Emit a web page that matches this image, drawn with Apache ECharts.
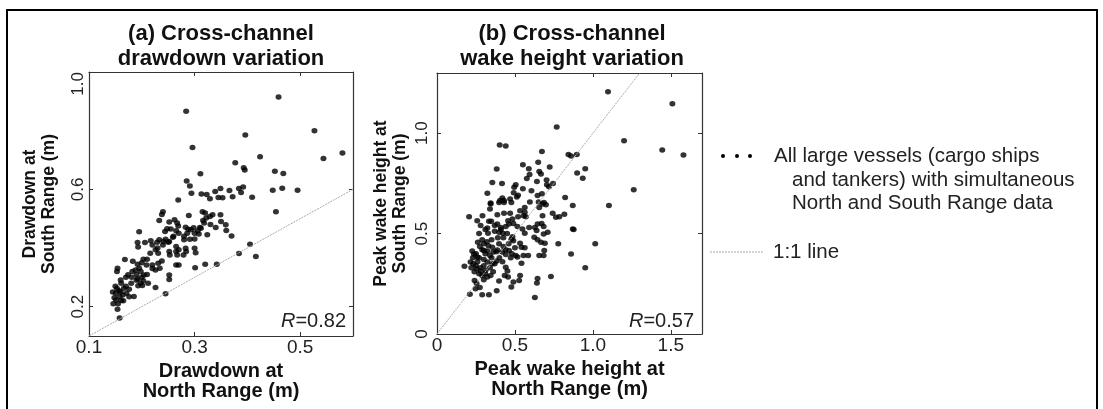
<!DOCTYPE html>
<html>
<head>
<meta charset="utf-8">
<script src="https://cdn.jsdelivr.net/npm/echarts@6/dist/echarts.min.js"></script>
<style>
html, body { margin: 0; padding: 0; background: #fff; }
#main { width: 1103px; height: 409px; }
</style>
</head>
<body>
<div id="main"></div>
<script>
// drawdown: [North Range, South Range] (m)
var drawdownPoints = [
	[0.284, 0.866], [0.459, 0.915], [0.396, 0.785], [0.296, 0.743], [0.527, 0.800], [0.544, 0.705],
	[0.580, 0.724], [0.424, 0.711], [0.377, 0.691], [0.393, 0.674], [0.395, 0.666], [0.452, 0.662],
	[0.468, 0.654], [0.311, 0.653], [0.285, 0.628], [0.291, 0.611], [0.294, 0.587], [0.313, 0.584],
	[0.323, 0.582], [0.329, 0.568], [0.339, 0.593], [0.349, 0.603], [0.345, 0.572], [0.353, 0.571],
	[0.366, 0.596], [0.372, 0.575], [0.384, 0.603], [0.392, 0.608], [0.388, 0.589], [0.409, 0.573],
	[0.448, 0.597], [0.466, 0.604], [0.495, 0.597], [0.269, 0.564],
	[0.454, 0.524], [0.405, 0.413], [0.416, 0.371], [0.384, 0.381], [0.370, 0.441], [0.342, 0.345],
	[0.320, 0.345], [0.301, 0.333],
	[0.240, 0.524], [0.238, 0.514], [0.233, 0.494], [0.252, 0.489], [0.262, 0.496], [0.267, 0.485],
	[0.269, 0.475], [0.248, 0.466], [0.244, 0.456], [0.255, 0.465], [0.265, 0.459], [0.283, 0.471],
	[0.288, 0.464], [0.286, 0.450], [0.293, 0.462], [0.298, 0.469], [0.306, 0.459], [0.308, 0.448],
	[0.312, 0.467], [0.316, 0.494], [0.322, 0.502], [0.318, 0.485], [0.334, 0.513], [0.329, 0.507],
	[0.320, 0.519], [0.315, 0.524], [0.289, 0.511], [0.349, 0.513], [0.359, 0.479], [0.324, 0.445],
	[0.300, 0.431], [0.291, 0.430], [0.280, 0.428], [0.259, 0.437], [0.252, 0.422], [0.241, 0.422],
	[0.245, 0.430], [0.233, 0.428], [0.229, 0.420], [0.217, 0.425], [0.206, 0.419], [0.192, 0.419],
	[0.193, 0.403], [0.195, 0.455], [0.226, 0.394], [0.231, 0.382], [0.216, 0.382], [0.210, 0.362],
	[0.203, 0.362], [0.209, 0.342], [0.220, 0.342], [0.226, 0.325], [0.234, 0.331], [0.231, 0.348],
	[0.238, 0.356], [0.252, 0.388], [0.253, 0.376], [0.265, 0.405], [0.265, 0.388], [0.270, 0.394],
	[0.267, 0.376], [0.283, 0.399], [0.284, 0.388], [0.279, 0.376], [0.300, 0.399], [0.302, 0.384],
	[0.252, 0.308], [0.252, 0.293], [0.265, 0.342], [0.270, 0.342], [0.245, 0.244], [0.226, 0.265],
	[0.212, 0.280], [0.198, 0.280], [0.193, 0.271], [0.201, 0.272], [0.203, 0.288], [0.192, 0.295],
	[0.181, 0.300], [0.174, 0.309], [0.182, 0.320], [0.198, 0.320], [0.204, 0.308], [0.188, 0.325],
	[0.195, 0.331], [0.192, 0.345], [0.183, 0.355], [0.168, 0.361], [0.154, 0.331], [0.153, 0.320],
	[0.160, 0.291], [0.161, 0.280], [0.153, 0.262], [0.151, 0.246], [0.157, 0.254], [0.166, 0.263],
	[0.176, 0.259], [0.171, 0.246], [0.164, 0.240], [0.158, 0.234], [0.151, 0.223], [0.161, 0.221],
	[0.176, 0.234], [0.185, 0.235], [0.154, 0.191], [0.158, 0.161],
	[0.145, 0.250], [0.148, 0.230], [0.146, 0.210], [0.155, 0.210], [0.160, 0.250], [0.170, 0.270],
	[0.150, 0.270], [0.165, 0.220], [0.180, 0.280], [0.190, 0.290], [0.170, 0.300], [0.200, 0.300],
	[0.190, 0.310], [0.210, 0.310], [0.220, 0.330], [0.200, 0.350], [0.230, 0.400], [0.220, 0.410],
	[0.240, 0.410], [0.250, 0.420], [0.260, 0.440], [0.270, 0.450], [0.280, 0.440], [0.300, 0.450],
	[0.310, 0.470], [0.330, 0.480], [0.340, 0.470], [0.350, 0.490], [0.360, 0.460]
];

// peak wake height: [North Range, South Range] (m)
var wakePoints = [
	[1.097, 1.206], [1.510, 1.147], [0.768, 1.031], [1.200, 0.962], [1.445, 0.916], [1.581, 0.891],
	[1.262, 0.719], [0.402, 0.942], [0.441, 0.936], [0.673, 0.909], [0.843, 0.894], [0.860, 0.886],
	[0.897, 0.894], [0.551, 0.843], [0.589, 0.823], [0.649, 0.855], [0.723, 0.832], [0.383, 0.822],
	[0.656, 0.810], [0.667, 0.797], [0.594, 0.794], [0.576, 0.774], [0.641, 0.759], [0.703, 0.767],
	[0.705, 0.743], [0.718, 0.734], [0.744, 0.749], [0.899, 0.802], [0.951, 0.823], [0.935, 0.776],
	[0.355, 0.754], [0.417, 0.749], [0.505, 0.743], [0.495, 0.731], [0.551, 0.723], [0.323, 0.701],
	[0.520, 0.691], [0.512, 0.682], [0.606, 0.713], [0.645, 0.690], [0.673, 0.698], [0.492, 0.703],
	[0.822, 0.680], [0.419, 0.678], [0.404, 0.665], [0.430, 0.665], [0.469, 0.672], [0.344, 0.652],
	[0.596, 0.658], [0.652, 0.658], [0.686, 0.655],
	[0.871, 0.640], [1.103, 0.640], [0.877, 0.520], [1.015, 0.449], [0.860, 0.399], [0.951, 0.330],
	[0.344, 0.647], [0.340, 0.622], [0.398, 0.655], [0.430, 0.655], [0.477, 0.655], [0.206, 0.584],
	[0.258, 0.564], [0.292, 0.589], [0.333, 0.561], [0.348, 0.561], [0.387, 0.594], [0.430, 0.601],
	[0.469, 0.601], [0.533, 0.614], [0.563, 0.606], [0.555, 0.589], [0.570, 0.584], [0.520, 0.584],
	[0.484, 0.573], [0.490, 0.551], [0.563, 0.630], [0.656, 0.630], [0.677, 0.647], [0.699, 0.644],
	[0.677, 0.589], [0.742, 0.601], [0.763, 0.581], [0.785, 0.584], [0.817, 0.597], [0.645, 0.548],
	[0.671, 0.551], [0.684, 0.535], [0.628, 0.531], [0.639, 0.515], [0.591, 0.531], [0.548, 0.523],
	[0.563, 0.502], [0.516, 0.535], [0.456, 0.564], [0.462, 0.548], [0.387, 0.548], [0.409, 0.531],
	[0.441, 0.535], [0.370, 0.512], [0.398, 0.507], [0.323, 0.528], [0.327, 0.502], [0.280, 0.540],
	[0.422, 0.502], [0.426, 0.479], [0.484, 0.485], [0.490, 0.465], [0.477, 0.472], [0.533, 0.452],
	[0.542, 0.432], [0.563, 0.429], [0.624, 0.482], [0.645, 0.469], [0.667, 0.457], [0.692, 0.452],
	[0.710, 0.507], [0.684, 0.498], [0.778, 0.449], [0.871, 0.523], [0.688, 0.416], [0.684, 0.391],
	[0.656, 0.391], [0.585, 0.391], [0.555, 0.391], [0.505, 0.391], [0.516, 0.383], [0.542, 0.353],
	[0.462, 0.416], [0.441, 0.396], [0.473, 0.380], [0.398, 0.449], [0.426, 0.436], [0.387, 0.419],
	[0.419, 0.408], [0.355, 0.432], [0.361, 0.408], [0.323, 0.413], [0.340, 0.391], [0.262, 0.457],
	[0.275, 0.436], [0.301, 0.449], [0.301, 0.416], [0.226, 0.413], [0.237, 0.399], [0.258, 0.383],
	[0.301, 0.371], [0.323, 0.358], [0.355, 0.350], [0.383, 0.363], [0.215, 0.358], [0.232, 0.350],
	[0.176, 0.337], [0.254, 0.325], [0.280, 0.314], [0.312, 0.317], [0.290, 0.292], [0.323, 0.284],
	[0.344, 0.292], [0.241, 0.267], [0.254, 0.251], [0.398, 0.264], [0.441, 0.333], [0.452, 0.314],
	[0.434, 0.292], [0.456, 0.284], [0.490, 0.259], [0.477, 0.234], [0.533, 0.292], [0.527, 0.267],
	[0.645, 0.276], [0.641, 0.254], [0.731, 0.287], [0.383, 0.215], [0.211, 0.198], [0.247, 0.226],
	[0.275, 0.231], [0.290, 0.196], [0.333, 0.196], [0.628, 0.182],
	[0.250, 0.400], [0.270, 0.380], [0.290, 0.420], [0.310, 0.400], [0.330, 0.440], [0.350, 0.380],
	[0.370, 0.350], [0.300, 0.340], [0.280, 0.330], [0.260, 0.360], [0.240, 0.310], [0.220, 0.330],
	[0.310, 0.300], [0.340, 0.330], [0.360, 0.310], [0.380, 0.410], [0.400, 0.380], [0.420, 0.360],
	[0.440, 0.420], [0.460, 0.450], [0.480, 0.400], [0.500, 0.430], [0.350, 0.470], [0.320, 0.460],
	[0.290, 0.470], [0.270, 0.300], [0.300, 0.270], [0.250, 0.340], [0.230, 0.380], [0.390, 0.480],
	[0.410, 0.520], [0.450, 0.500], [0.370, 0.540], [0.310, 0.520], [0.270, 0.500]
];

// axis ranges and tick values
var drawdownXTicks = [0.1, 0.3, 0.5];
var drawdownYTicks = [0.2, 0.6, 1.0];
var wakeXTicks = [0, 0.5, 1.0, 1.5];
var wakeYTicks = [0, 0.5, 1.0];
var oneToOneA = [0.1, 0.6];
var oneToOneB = [0, 1.3];

var FONT = "'Liberation Sans', Arial, sans-serif";

function fmt(v) {
	return v === 0 ? '0' : v.toFixed(1);
}

// 一个坐标轴 (主轴带标签，镜像轴只画刻度)
function makeAxis(o) {
	var vertical = (o.pos === 'left' || o.pos === 'right');
	var axis = {
		type: 'value',
		gridIndex: o.grid,
		position: o.pos,
		min: o.min,
		max: o.max,
		splitLine: { show: false },
		axisLine: { show: true, onZero: false, lineStyle: { color: '#333', width: 1.2 } },
		axisTick: {
			show: true,
			inside: true,
			length: 4,
			customValues: o.ticks,
			lineStyle: { color: '#333', width: 1 }
		},
		axisLabel: {
			show: !!o.name,
			customValues: o.ticks,
			formatter: fmt,
			rotate: vertical ? 90 : 0,
			margin: o.margin || 2,
			color: '#222',
			fontSize: vertical ? 17 : 19,
			fontFamily: FONT
		},
		name: o.name || '',
		nameLocation: 'middle',
		nameGap: o.nameGap || 0,
		nameRotate: vertical ? 90 : 0,
		nameTextStyle: {
			color: '#111',
			fontSize: vertical ? 17.5 : 20,
			fontWeight: 'bold',
			fontFamily: FONT,
			lineHeight: vertical ? 19 : 20
		}
	};
	if (o.alignMax) {
		axis.axisLabel.alignMaxLabel = o.alignMax;
	}
	return axis;
}

var myChart = echarts.init(document.getElementById('main'));

var option = {
	backgroundColor: '#fff',
	animation: false,
	grid: [
		{ left: 89, top: 72, width: 264, height: 264 },
		{ left: 437, top: 73, width: 265, height: 261 }
	],
	xAxis: [
		makeAxis({ grid: 0, pos: 'bottom', min: 0.1, max: 0.6, ticks: drawdownXTicks, name: 'Drawdown at\nNorth Range (m)', nameGap: 24, margin: 2 }),
		makeAxis({ grid: 1, pos: 'bottom', min: 0, max: 1.7, ticks: wakeXTicks, name: 'Peak wake height at\nNorth Range (m)', nameGap: 25, margin: 2 }),
		makeAxis({ grid: 0, pos: 'top', min: 0.1, max: 0.6, ticks: drawdownXTicks }),
		makeAxis({ grid: 1, pos: 'top', min: 0, max: 1.7, ticks: wakeXTicks })
	],
	yAxis: [
		makeAxis({ grid: 0, pos: 'left', min: 0.1, max: 1.0, ticks: drawdownYTicks, name: 'Drawdown at\nSouth Range (m)', nameGap: 30, margin: 2, alignMax: 'right' }),
		makeAxis({ grid: 1, pos: 'left', min: 0, max: 1.3, ticks: wakeYTicks, name: 'Peak wake height at\nSouth Range (m)', nameGap: 27, margin: 6 }),
		makeAxis({ grid: 0, pos: 'right', min: 0.1, max: 1.0, ticks: drawdownYTicks }),
		makeAxis({ grid: 1, pos: 'right', min: 0, max: 1.3, ticks: wakeYTicks })
	],
	series: [
		{
			type: 'line',
			xAxisIndex: 0, yAxisIndex: 0,
			data: [[oneToOneA[0], oneToOneA[0]], [oneToOneA[1], oneToOneA[1]]],
			showSymbol: false,
			silent: true,
			lineStyle: { color: '#aaa', width: 1, type: [2, 1] }
		},
		{
			type: 'line',
			xAxisIndex: 1, yAxisIndex: 1,
			data: [[oneToOneB[0], oneToOneB[0]], [oneToOneB[1], oneToOneB[1]]],
			showSymbol: false,
			silent: true,
			lineStyle: { color: '#aaa', width: 1, type: [2, 1] }
		},
		{
			type: 'scatter',
			xAxisIndex: 0, yAxisIndex: 0,
			data: drawdownPoints,
			symbolSize: [6, 5.5],
			itemStyle: { color: '#000' }
		},
		{
			type: 'scatter',
			xAxisIndex: 1, yAxisIndex: 1,
			data: wakePoints,
			symbolSize: [6, 5.5],
			itemStyle: { color: '#000' }
		}
	],
	graphic: [
		// 外框
		{
			type: 'rect',
			shape: { x: 7, y: 10, width: 1090, height: 420 },
			style: { fill: 'none', stroke: '#000', lineWidth: 2 }
		},
		{
			type: 'text', x: 221, y: 46,
			style: {
				text: '(a) Cross-channel\ndrawdown variation',
				font: 'bold 22px ' + FONT, lineHeight: 25,
				align: 'center', verticalAlign: 'middle', fill: '#111'
			}
		},
		{
			type: 'text', x: 572, y: 46,
			style: {
				text: '(b) Cross-channel\nwake height variation',
				font: 'bold 22px ' + FONT, lineHeight: 25,
				align: 'center', verticalAlign: 'middle', fill: '#111'
			}
		},
		{
			type: 'text', x: 346, y: 321,
			style: {
				text: '{i|R}=0.82',
				font: '20px ' + FONT, fill: '#222',
				align: 'right', verticalAlign: 'middle',
				rich: { i: { fontStyle: 'italic', fontSize: 20, fontFamily: FONT, fill: '#222' } }
			}
		},
		{
			type: 'text', x: 694, y: 321,
			style: {
				text: '{i|R}=0.57',
				font: '20px ' + FONT, fill: '#222',
				align: 'right', verticalAlign: 'middle',
				rich: { i: { fontStyle: 'italic', fontSize: 20, fontFamily: FONT, fill: '#222' } }
			}
		},
		// legend
		{ type: 'circle', shape: { cx: 723, cy: 156, r: 2 }, style: { fill: '#000' } },
		{ type: 'circle', shape: { cx: 737, cy: 156, r: 2 }, style: { fill: '#000' } },
		{ type: 'circle', shape: { cx: 750, cy: 156, r: 2 }, style: { fill: '#000' } },
		{
			type: 'text', x: 774, y: 156,
			style: { text: 'All large vessels (cargo ships', font: '20.5px ' + FONT, fill: '#222', verticalAlign: 'middle' }
		},
		{
			type: 'text', x: 792, y: 180,
			style: { text: 'and tankers) with simultaneous', font: '20.5px ' + FONT, fill: '#222', verticalAlign: 'middle' }
		},
		{
			type: 'text', x: 792, y: 203,
			style: { text: 'North and South Range data', font: '20.5px ' + FONT, fill: '#222', verticalAlign: 'middle' }
		},
		{
			type: 'line',
			shape: { x1: 710, y1: 252, x2: 763, y2: 252 },
			style: { stroke: '#aaa', lineWidth: 1, lineDash: [2, 1] }
		},
		{
			type: 'text', x: 773, y: 252,
			style: { text: '1:1 line', font: '20.5px ' + FONT, fill: '#222', verticalAlign: 'middle' }
		}
	]
};

myChart.setOption(option);
</script>
</body>
</html>
